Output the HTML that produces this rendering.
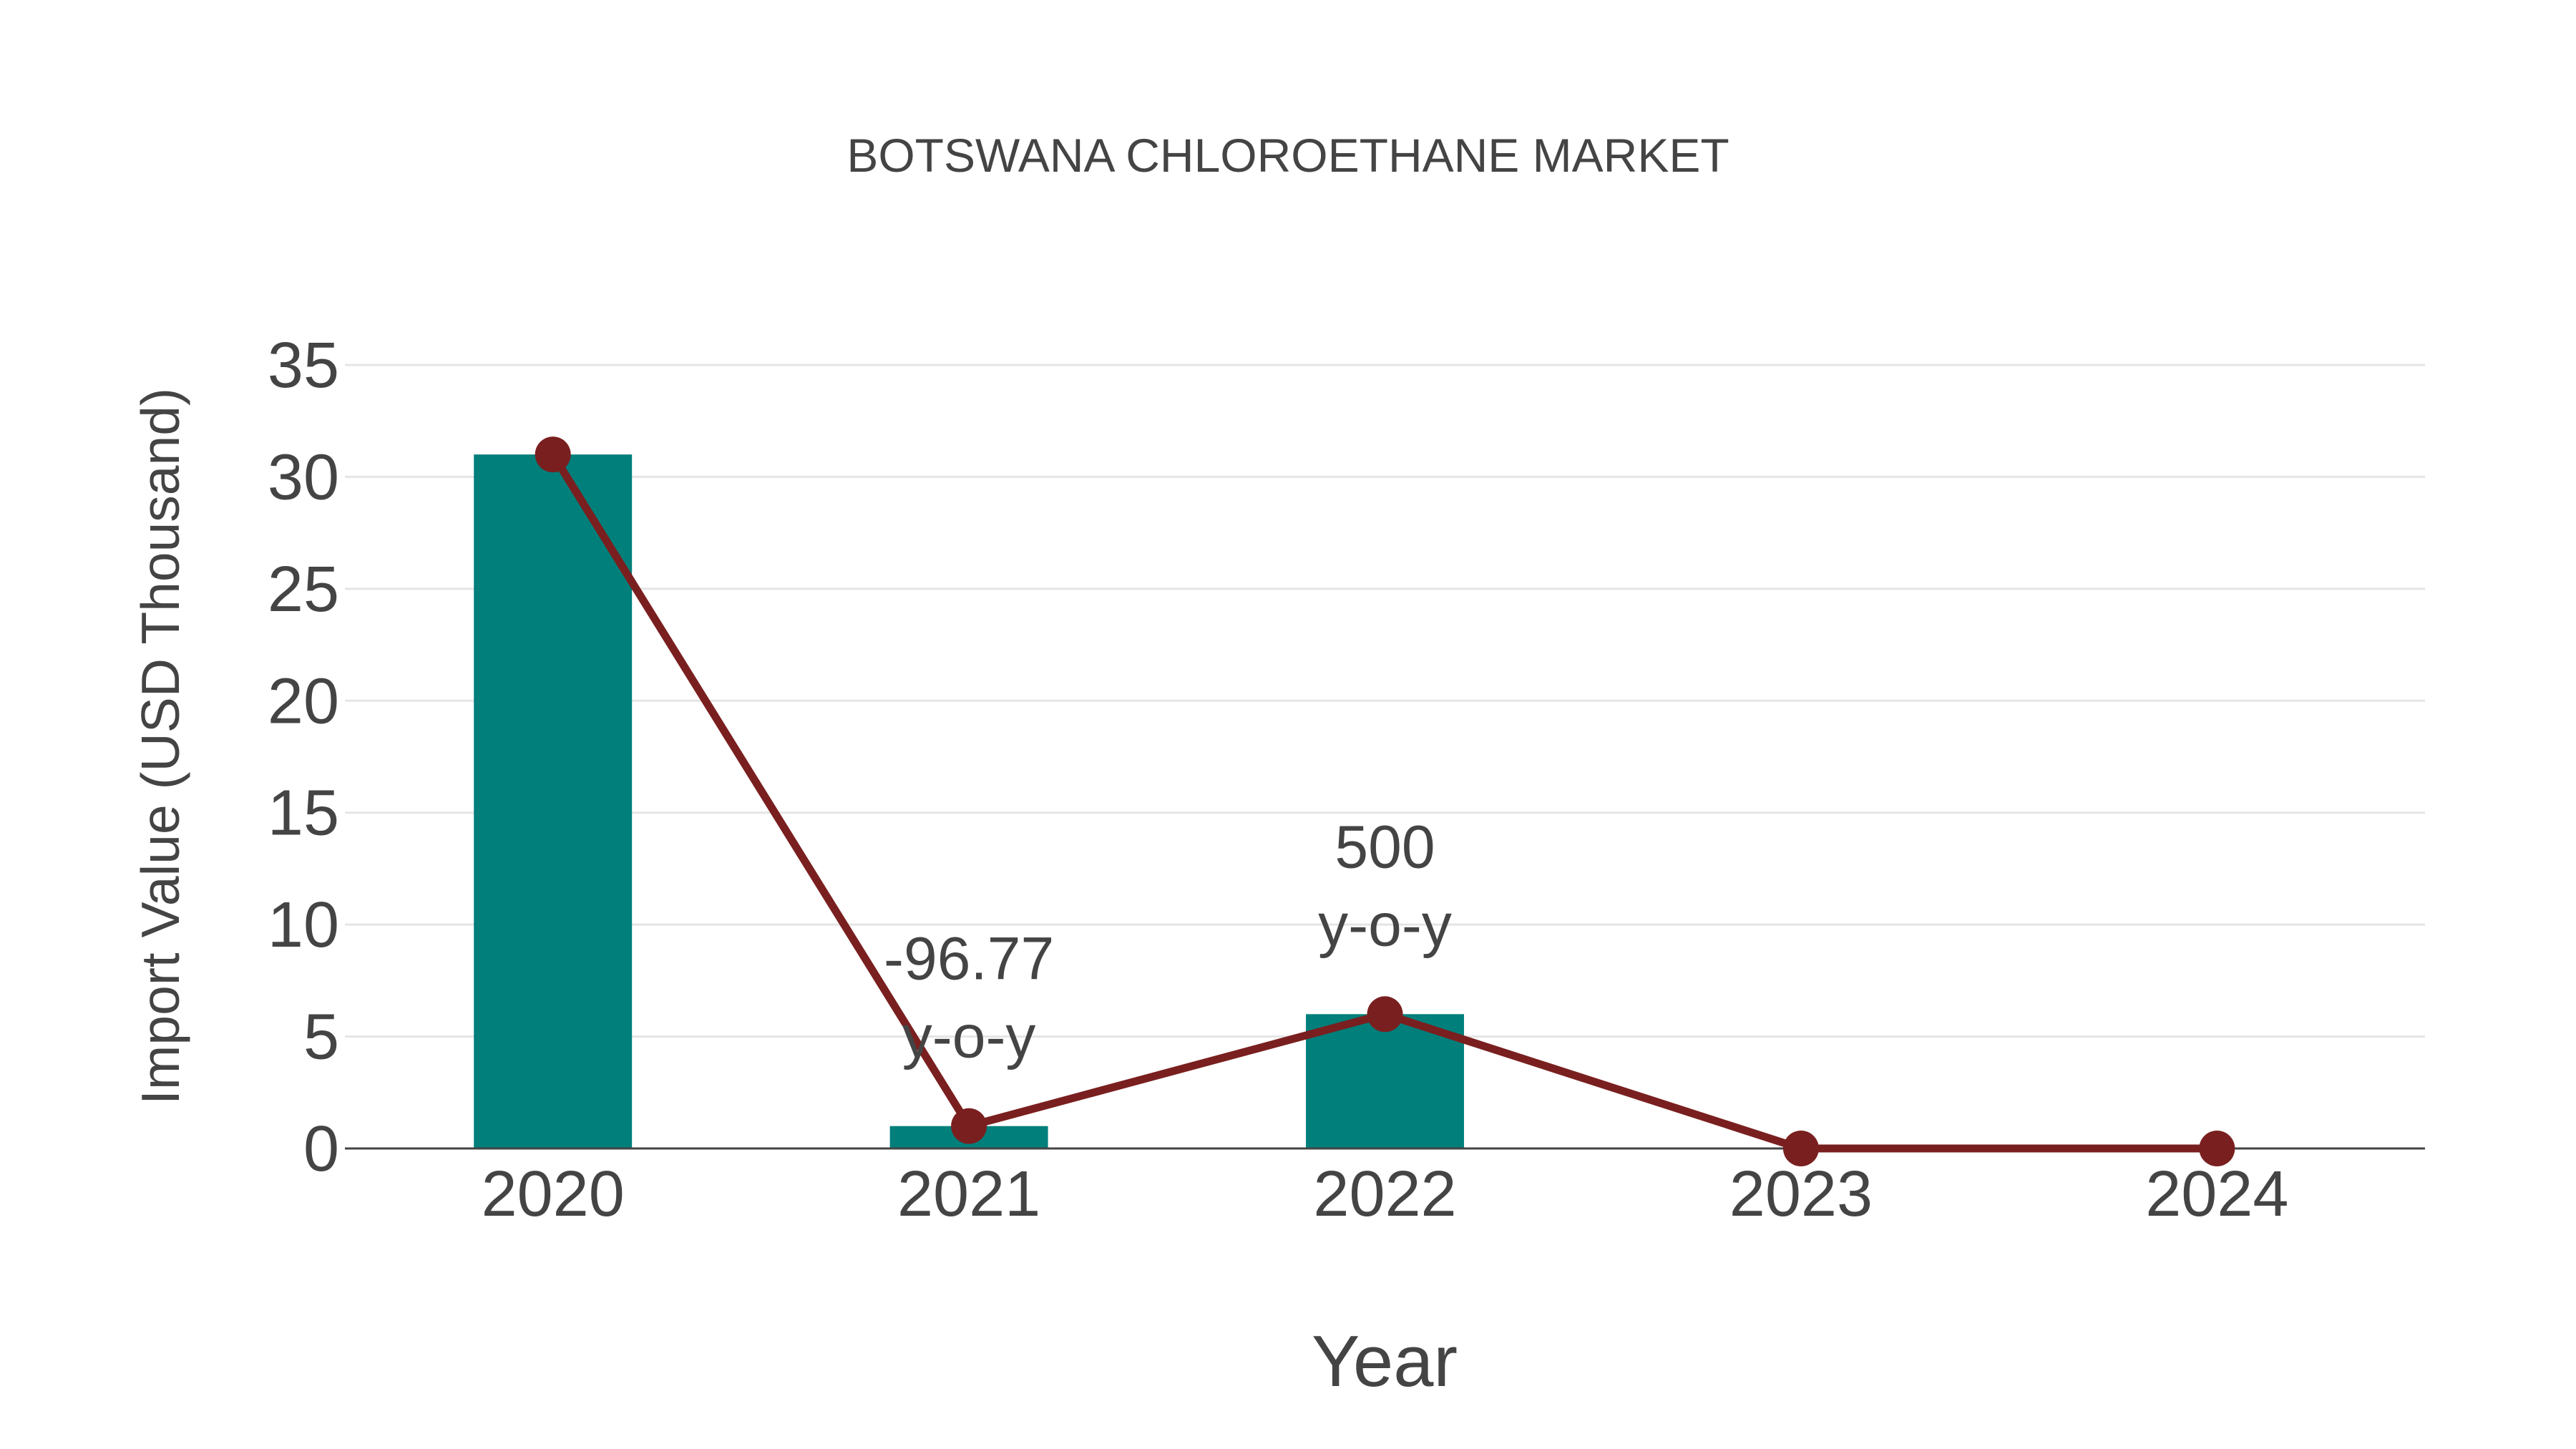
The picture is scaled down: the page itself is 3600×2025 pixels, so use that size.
<!DOCTYPE html>
<html><head><meta charset="utf-8"><style>
html,body{margin:0;padding:0;background:#fff;}
svg{display:block;font-family:"Liberation Sans",sans-serif;}
</style></head><body>
<svg id="chart" width="3600" height="2025" viewBox="0 0 3600 2025">
<text x="1800" y="240" text-anchor="middle" font-size="66" fill="#444">BOTSWANA CHLOROETHANE MARKET</text>
<g id="grid"></g>
<g id="yticks"></g>
<g id="bars"></g>
<line x1="482" y1="1605" x2="3389" y2="1605" stroke="#444" stroke-width="3"/>
<g id="line"></g>
<g id="xticks"></g>
<g id="annots"></g>
<text x="1935" y="1937" text-anchor="middle" font-size="101" fill="#444">Year</text>
<text transform="translate(250,1043) rotate(-90)" text-anchor="middle" font-size="75" fill="#444">Import Value (USD Thousand)</text>
</svg>
<script>
const categories = ["2020","2021","2022","2023","2024"];
const values = [31, 1, 6, 0, 0];
const yTicks = [0,5,10,15,20,25,30,35];
const yoyLabels = [null, "-96.77", "500", null, null];

const NS="http://www.w3.org/2000/svg";
const L=482,R=3389,Y0=1605,Y35=510;
const band=(R-L)/categories.length;
const xs=i=>L+band*(i+0.5);
const ys=v=>Y0-(Y0-Y35)*v/35;
function mk(t,a,p){const e=document.createElementNS(NS,t);for(const k in a)e.setAttribute(k,a[k]);p.appendChild(e);return e;}
const grid=document.getElementById('grid'),yt=document.getElementById('yticks');
yTicks.forEach(v=>{
  if(v>0){const g=mk('line',{x1:L,x2:R,y1:ys(v),y2:ys(v),stroke:'#e5e5e5','stroke-width':3},grid);
  
  }
  const t=mk('text',{x:L-8,y:ys(v)+31,'text-anchor':'end','font-size':90,fill:'#444'},yt);
  t.textContent=v;
  
  
});
const bars=document.getElementById('bars'),xt=document.getElementById('xticks');
const bw=band*0.38;
values.forEach((v,i)=>{
  const b=mk('rect',{x:xs(i)-bw/2,y:ys(v),width:bw,height:Y0-ys(v),fill:'#007f7b'},bars);
  
  
  const t=mk('text',{x:xs(i),y:Y0+94,'text-anchor':'middle','font-size':90,fill:'#444'},xt);
  t.textContent=categories[i];
  
  
});
const lg=document.getElementById('line');
const pl=mk('polyline',{points:values.map((v,i)=>xs(i)+','+ys(v)).join(' '),fill:'none',stroke:'#7a1f1f','stroke-width':11,'stroke-linejoin':'round'},lg);


values.forEach((v,i)=>{
  const c=mk('circle',{cx:xs(i),cy:ys(v),r:25,fill:'#7a1f1f'},lg);
  
  
});
const an=document.getElementById('annots');
yoyLabels.forEach((s,i)=>{
  if(s===null)return;
  const y=ys(values[i]);
  const t1=mk('text',{x:xs(i),y:y-205,'text-anchor':'middle','font-size':84,fill:'#444'},an);
  t1.textContent=s;
  
  
  const t2=mk('text',{x:xs(i),y:y-96,'text-anchor':'middle','font-size':84,fill:'#444'},an);
  t2.textContent='y-o-y';
  
  
});
</script>
</body></html>
